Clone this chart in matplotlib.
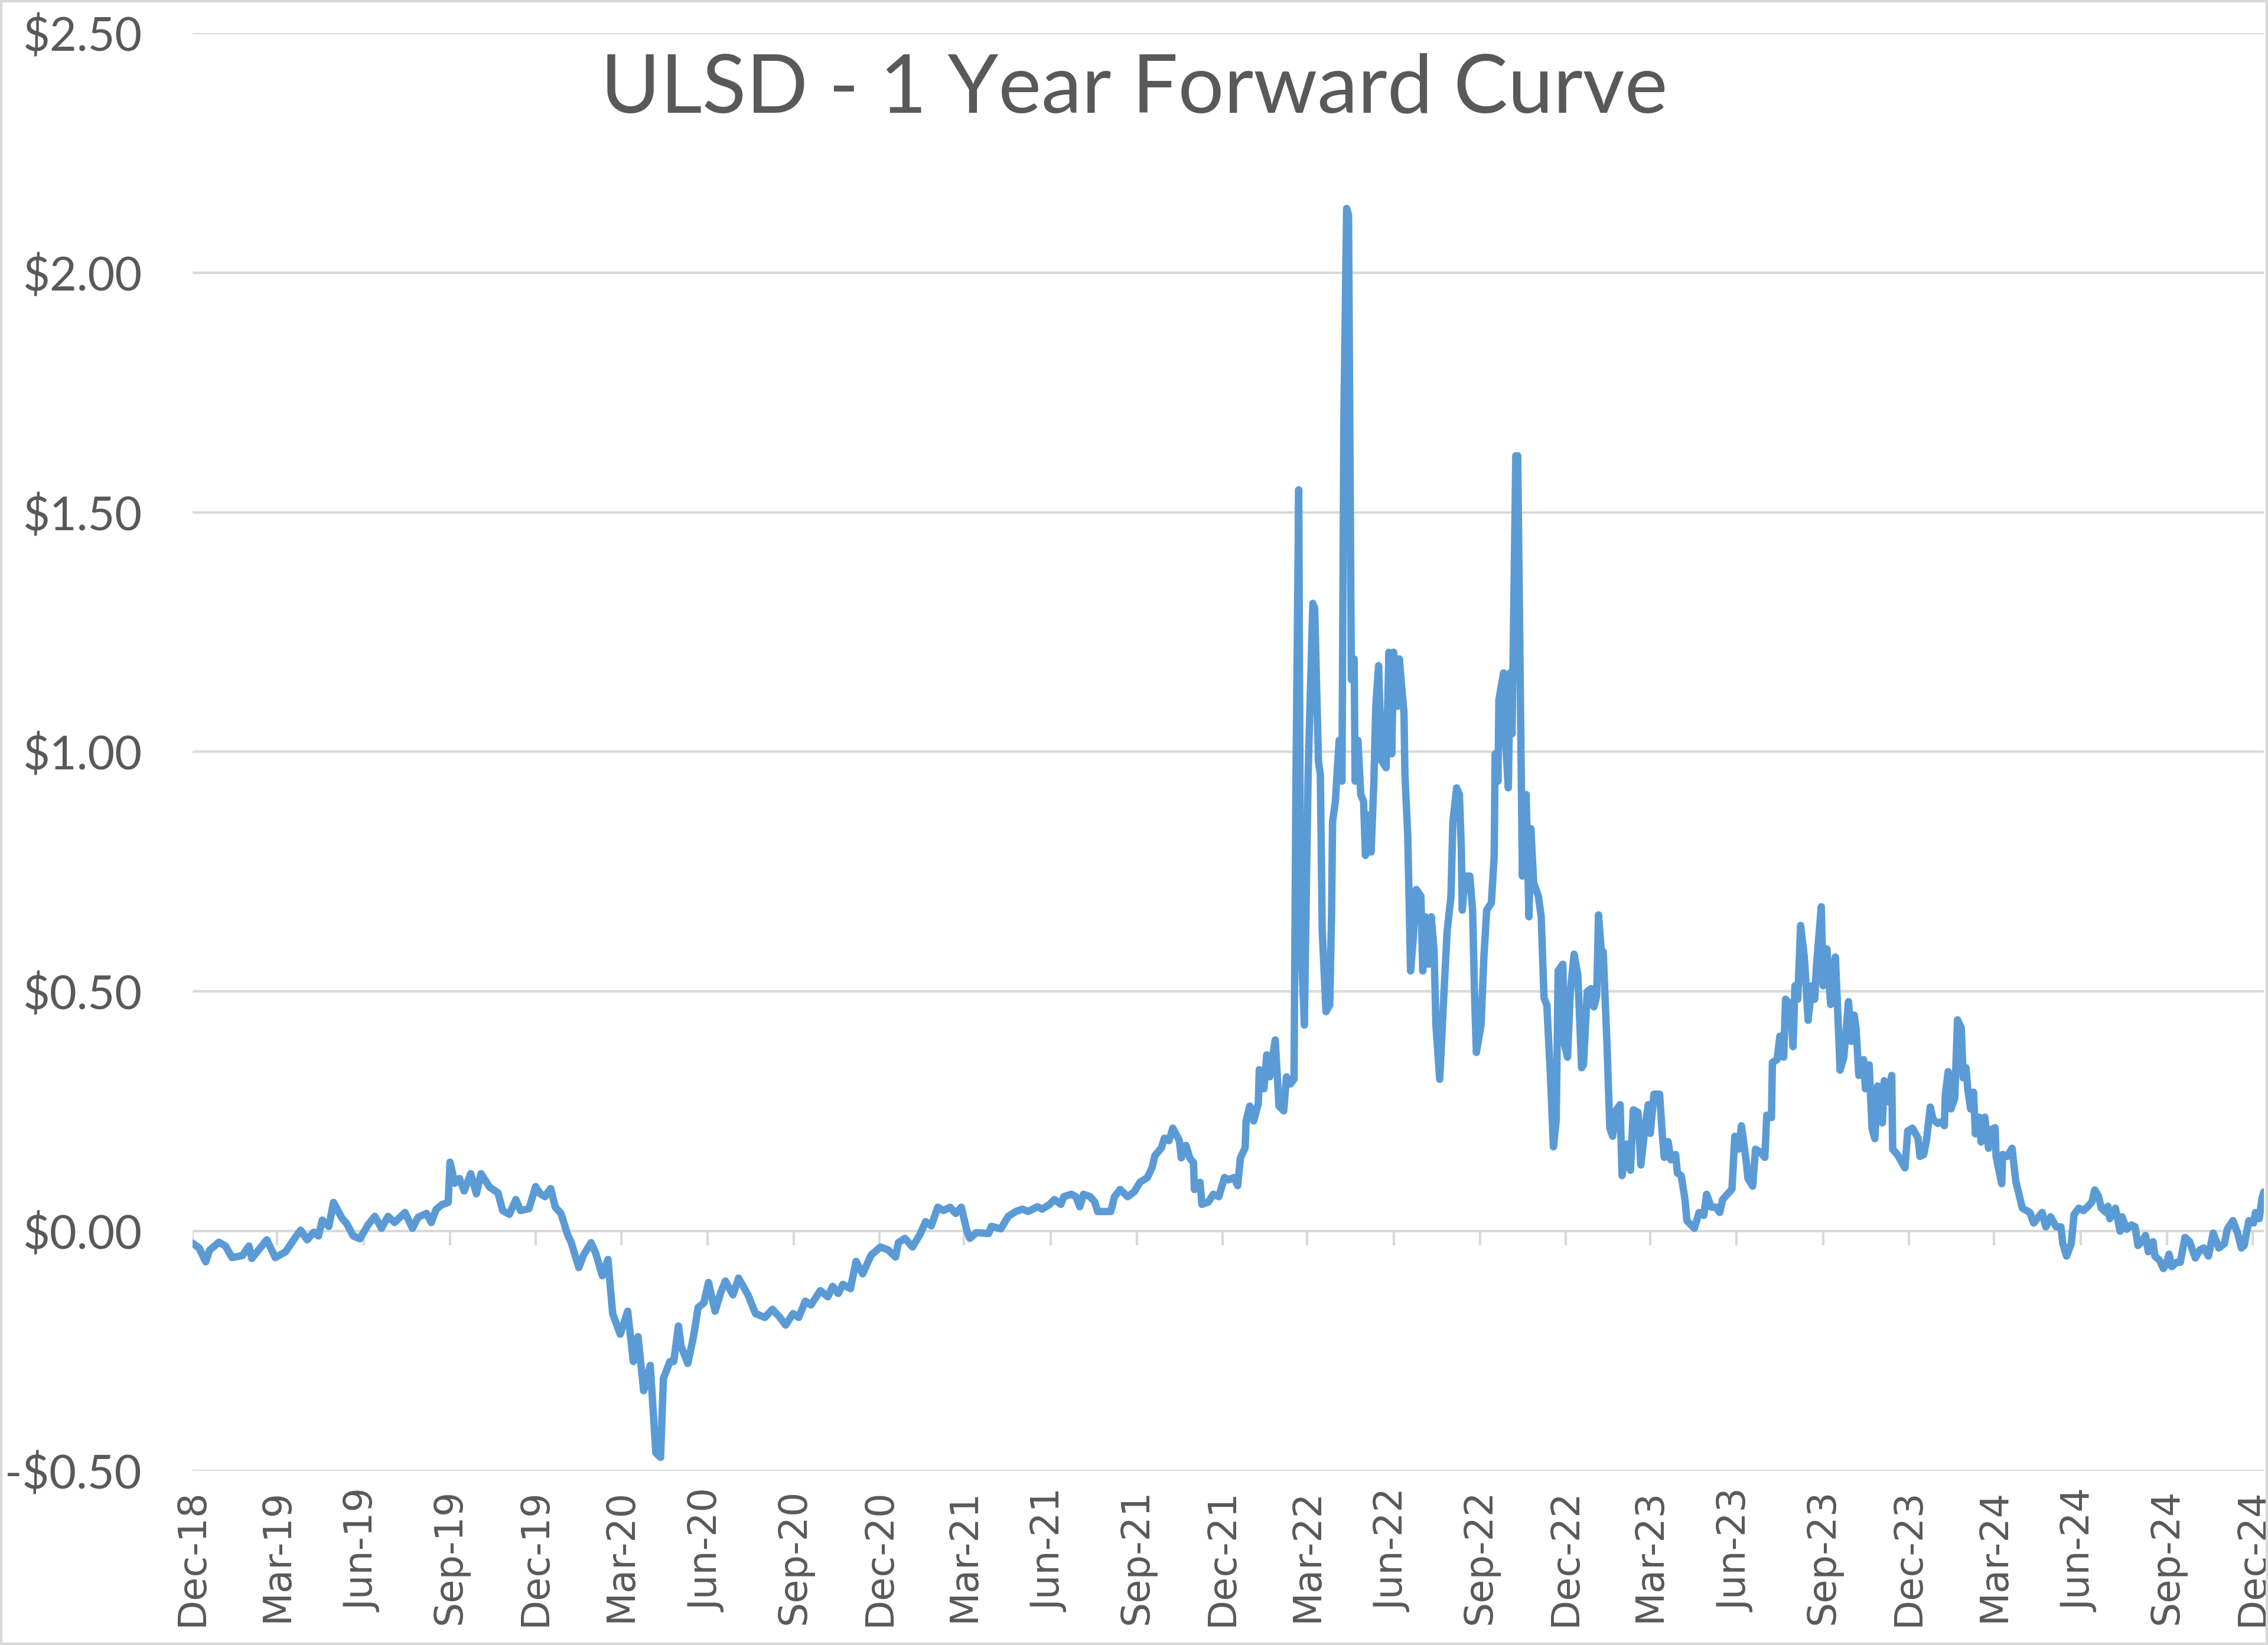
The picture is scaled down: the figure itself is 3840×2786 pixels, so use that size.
import matplotlib
matplotlib.use("Agg")
import matplotlib.pyplot as plt
import matplotlib.dates as mdates
from matplotlib.ticker import FuncFormatter
from matplotlib.patches import Rectangle
import pandas as pd

TITLE = "ULSD - 1 Year Forward Curve"

# spread values ($/gal)
dates = [
    "2018-12-01", "2018-12-08", "2018-12-15", "2018-12-19", "2018-12-29", "2019-01-05", "2019-01-12",
    "2019-01-23", "2019-01-30", "2019-02-02", "2019-02-11", "2019-02-18", "2019-02-27", "2019-03-10",
    "2019-03-20", "2019-03-26", "2019-04-02", "2019-04-09", "2019-04-14", "2019-04-18", "2019-04-25",
    "2019-04-30", "2019-05-09", "2019-05-14", "2019-05-21", "2019-05-28", "2019-06-06", "2019-06-13",
    "2019-06-20", "2019-06-27", "2019-07-04", "2019-07-15", "2019-07-23", "2019-07-29", "2019-08-07",
    "2019-08-12", "2019-08-17", "2019-08-23", "2019-08-30", "2019-09-01", "2019-09-06", "2019-09-11",
    "2019-09-16", "2019-09-23", "2019-09-29", "2019-10-04", "2019-10-13", "2019-10-22", "2019-10-27",
    "2019-11-03", "2019-11-10", "2019-11-15", "2019-11-24",
    "2019-12-01", "2019-12-06", "2019-12-11", "2019-12-17", "2019-12-22", "2019-12-28", "2020-01-04",
    "2020-01-08", "2020-01-16", "2020-01-21", "2020-01-29", "2020-02-03", "2020-02-10", "2020-02-16",
    "2020-02-21", "2020-02-29", "2020-03-08", "2020-03-14", "2020-03-19", "2020-03-25", "2020-04-01",
    "2020-04-07", "2020-04-12", "2020-04-15", "2020-04-22", "2020-04-26", "2020-05-01", "2020-05-04",
    "2020-05-11", "2020-05-17", "2020-05-22", "2020-05-28", "2020-06-02", "2020-06-09", "2020-06-15",
    "2020-06-20", "2020-06-28", "2020-07-04", "2020-07-14", "2020-07-22", "2020-08-01", "2020-08-09",
    "2020-08-17", "2020-08-23", "2020-08-31", "2020-09-06", "2020-09-13", "2020-09-19", "2020-09-29",
    "2020-10-07", "2020-10-12", "2020-10-18", "2020-10-23", "2020-10-31", "2020-11-06", "2020-11-13",
    "2020-11-22", "2020-12-02", "2020-12-10", "2020-12-18", "2020-12-21", "2020-12-28", "2021-01-05",
    "2021-01-13", "2021-01-19", "2021-01-25", "2021-02-01", "2021-02-07", "2021-02-14", "2021-02-20",
    "2021-02-26",
    "2021-03-04", "2021-03-07", "2021-03-14", "2021-03-27", "2021-03-30", "2021-04-09", "2021-04-17",
    "2021-04-25", "2021-05-02", "2021-05-08", "2021-05-18", "2021-05-23", "2021-05-31", "2021-06-05",
    "2021-06-12", "2021-06-15", "2021-06-23", "2021-06-28", "2021-07-02", "2021-07-06", "2021-07-13",
    "2021-07-18", "2021-07-21", "2021-08-04", "2021-08-08", "2021-08-14", "2021-08-22", "2021-08-29",
    "2021-09-04", "2021-09-12", "2021-09-17", "2021-09-20", "2021-09-27", "2021-09-30", "2021-10-05",
    "2021-10-09", "2021-10-16", "2021-10-18", "2021-10-23", "2021-10-27", "2021-10-31", "2021-11-01",
    "2021-11-07", "2021-11-09", "2021-11-16", "2021-11-21", "2021-11-27", "2021-12-03", "2021-12-07",
    "2021-12-13", "2021-12-17", "2021-12-20", "2021-12-25", "2021-12-26", "2021-12-30", "2022-01-03",
    "2022-01-08", "2022-01-09", "2022-01-14", "2022-01-17", "2022-01-20", "2022-01-26", "2022-01-30",
    "2022-02-04", "2022-02-07", "2022-02-11",
    "2022-02-15", "2022-02-17", "2022-02-20", "2022-02-22", "2022-02-26", "2022-02-28", "2022-03-02",
    "2022-03-07", "2022-03-09", "2022-03-13", "2022-03-15", "2022-03-17", "2022-03-21", "2022-03-25",
    "2022-03-27", "2022-03-28", "2022-03-31", "2022-04-04", "2022-04-07", "2022-04-09", "2022-04-12",
    "2022-04-14", "2022-04-17", "2022-04-20", "2022-04-21", "2022-04-24", "2022-04-27", "2022-04-30",
    "2022-05-02", "2022-05-05", "2022-05-08", "2022-05-11", "2022-05-13", "2022-05-16", "2022-05-19",
    "2022-05-24", "2022-05-27", "2022-05-30", "2022-06-01", "2022-06-05", "2022-06-07", "2022-06-12",
    "2022-06-13", "2022-06-16", "2022-06-19", "2022-06-22", "2022-06-25", "2022-06-30", "2022-07-02",
    "2022-07-05", "2022-07-08", "2022-07-11", "2022-07-14", "2022-07-16", "2022-07-20", "2022-07-25",
    "2022-07-28", "2022-08-01", "2022-08-03", "2022-08-07", "2022-08-10", "2022-08-12", "2022-08-13",
    "2022-08-16", "2022-08-21", "2022-08-24", "2022-08-26", "2022-08-28", "2022-09-02", "2022-09-05",
    "2022-09-08", "2022-09-13", "2022-09-16", "2022-09-17", "2022-09-20", "2022-09-21", "2022-09-26",
    "2022-09-28", "2022-10-01", "2022-10-03", "2022-10-05", "2022-10-09", "2022-10-11", "2022-10-15",
    "2022-10-16", "2022-10-20", "2022-10-23", "2022-10-25", "2022-10-28", "2022-11-02", "2022-11-05",
    "2022-11-08", "2022-11-11", "2022-11-15", "2022-11-18", "2022-11-21", "2022-11-23", "2022-11-28",
    "2022-11-30",
    "2022-12-03", "2022-12-06", "2022-12-10", "2022-12-14", "2022-12-18", "2022-12-20", "2022-12-24",
    "2022-12-28", "2022-12-31", "2023-01-03", "2023-01-05", "2023-01-08", "2023-01-10", "2023-01-14",
    "2023-01-17", "2023-01-20", "2023-01-24", "2023-01-28", "2023-01-30", "2023-02-04", "2023-02-08",
    "2023-02-11", "2023-02-16", "2023-02-19", "2023-02-24", "2023-02-27", "2023-03-01", "2023-03-05",
    "2023-03-11", "2023-03-14", "2023-03-16", "2023-03-20", "2023-03-23", "2023-03-28", "2023-03-30",
    "2023-04-03", "2023-04-07", "2023-04-09", "2023-04-17", "2023-04-22", "2023-04-27", "2023-04-30",
    "2023-05-05", "2023-05-10", "2023-05-14", "2023-05-17", "2023-05-22", "2023-05-27", "2023-05-30",
    "2023-06-03", "2023-06-06", "2023-06-11", "2023-06-13", "2023-06-18", "2023-06-21", "2023-06-26",
    "2023-07-01", "2023-07-03", "2023-07-08", "2023-07-09", "2023-07-14", "2023-07-17", "2023-07-21",
    "2023-07-23", "2023-07-28", "2023-07-31", "2023-08-02", "2023-08-05", "2023-08-08", "2023-08-12",
    "2023-08-16", "2023-08-20", "2023-08-23", "2023-08-25", "2023-08-30", "2023-09-01", "2023-09-05",
    "2023-09-09", "2023-09-14", "2023-09-16", "2023-09-19", "2023-09-23", "2023-09-28", "2023-10-01",
    "2023-10-04", "2023-10-06", "2023-10-09", "2023-10-14", "2023-10-16", "2023-10-20", "2023-10-23",
    "2023-10-26", "2023-10-29", "2023-11-03", "2023-11-05", "2023-11-09", "2023-11-13", "2023-11-14",
    "2023-11-19", "2023-11-27", "2023-11-30", "2023-12-05",
    "2023-12-11", "2023-12-13", "2023-12-17", "2023-12-20", "2023-12-24", "2023-12-27", "2024-01-01",
    "2024-01-06", "2024-01-08", "2024-01-09", "2024-01-12", "2024-01-15", "2024-01-19", "2024-01-22",
    "2024-01-26", "2024-01-28", "2024-01-31", "2024-02-02", "2024-02-05", "2024-02-08", "2024-02-10",
    "2024-02-14", "2024-02-16", "2024-02-20", "2024-02-24", "2024-02-27", "2024-03-02", "2024-03-03",
    "2024-03-09", "2024-03-10", "2024-03-15", "2024-03-20", "2024-03-24", "2024-03-31", "2024-04-08",
    "2024-04-12", "2024-04-21", "2024-04-25", "2024-04-30", "2024-05-06", "2024-05-11", "2024-05-13",
    "2024-05-17", "2024-05-22", "2024-05-25", "2024-05-30", "2024-06-04", "2024-06-09", "2024-06-13",
    "2024-06-16", "2024-06-20", "2024-06-23", "2024-06-28", "2024-06-30", "2024-07-02", "2024-07-08",
    "2024-07-13", "2024-07-15", "2024-07-20", "2024-07-25", "2024-07-29", "2024-08-01", "2024-08-05",
    "2024-08-09", "2024-08-12", "2024-08-17", "2024-08-19", "2024-08-24", "2024-08-28", "2024-08-31",
    "2024-09-03", "2024-09-06", "2024-09-11", "2024-09-15", "2024-09-20", "2024-09-25", "2024-10-01",
    "2024-10-06", "2024-10-10", "2024-10-15", "2024-10-20", "2024-10-26", "2024-11-01", "2024-11-04",
    "2024-11-10", "2024-11-15", "2024-11-19", "2024-11-22", "2024-11-27", "2024-12-02", "2024-12-04",
    "2024-12-08", "2024-12-11", "2024-12-13",
]

values = [
    -0.025, -0.035, -0.064, -0.040, -0.023, -0.031, -0.055,
    -0.051, -0.031, -0.057, -0.035, -0.018, -0.055, -0.043,
    -0.014, 0.002, -0.018, -0.002, -0.010, 0.023, 0.010,
    0.060, 0.027, 0.016, -0.010, -0.016, 0.014, 0.031,
    0.006, 0.031, 0.018, 0.039, 0.006, 0.029, 0.037,
    0.018, 0.045, 0.055, 0.060, 0.144, 0.100, 0.110,
    0.084, 0.120, 0.078, 0.120, 0.092, 0.080, 0.043,
    0.035, 0.066, 0.043, 0.047,
    0.093, 0.078, 0.072, 0.089, 0.050, 0.037, -0.007,
    -0.024, -0.076, -0.050, -0.024, -0.046, -0.093, -0.059,
    -0.172, -0.215, -0.167, -0.272, -0.220, -0.333, -0.280,
    -0.463, -0.472, -0.307, -0.272, -0.272, -0.198, -0.241,
    -0.276, -0.220, -0.159, -0.150, -0.107, -0.167, -0.128,
    -0.104, -0.133, -0.098, -0.133, -0.172, -0.180, -0.163,
    -0.180, -0.196, -0.172, -0.180, -0.146, -0.154, -0.124,
    -0.137, -0.115, -0.130, -0.111, -0.120, -0.063, -0.089,
    -0.050, -0.033, -0.039, -0.054, -0.024, -0.015, -0.033,
    -0.007, 0.020, 0.011, 0.050, 0.043, 0.050, 0.037,
    0.050,
    0.000, -0.015, -0.003, -0.005, 0.010, 0.005, 0.031,
    0.041, 0.046, 0.041, 0.051, 0.046, 0.056, 0.066,
    0.056, 0.072, 0.077, 0.072, 0.051, 0.077, 0.072,
    0.061, 0.041, 0.041, 0.072, 0.087, 0.072, 0.082,
    0.102, 0.112, 0.133, 0.158, 0.174, 0.194, 0.189,
    0.215, 0.189, 0.153, 0.179, 0.153, 0.143, 0.087,
    0.102, 0.056, 0.061, 0.077, 0.072, 0.112, 0.107,
    0.112, 0.095, 0.153, 0.174, 0.230, 0.261, 0.230,
    0.266, 0.337, 0.297, 0.368, 0.322, 0.399, 0.261,
    0.251, 0.322, 0.307,
    0.317, 0.925, 1.547, 0.628, 0.430, 0.699, 0.953,
    1.310, 1.300, 0.980, 0.953, 0.628, 0.458, 0.472,
    0.670, 0.854, 0.897, 1.024, 0.939, 1.689, 2.134,
    2.120, 1.151, 1.194, 0.939, 1.024, 0.911, 0.897,
    0.784, 0.868, 0.791, 0.939, 1.095, 1.180, 0.982,
    0.967, 1.208, 0.996, 1.208, 1.095, 1.194, 1.081,
    0.953, 0.826, 0.543, 0.614, 0.713, 0.699, 0.543,
    0.656, 0.557, 0.656, 0.586, 0.430, 0.317, 0.515,
    0.628, 0.699, 0.854, 0.925, 0.911, 0.798, 0.670,
    0.741, 0.741, 0.670, 0.500, 0.373, 0.430, 0.571,
    0.670, 0.685, 0.784, 0.996, 0.939, 1.109, 1.165,
    1.024, 0.925, 1.165, 1.038, 1.618, 1.618, 0.925,
    0.741, 0.911, 0.656, 0.840, 0.727, 0.699, 0.656,
    0.487, 0.472, 0.317, 0.176, 0.232, 0.543, 0.557,
    0.388,
    0.363, 0.500, 0.578, 0.534, 0.341, 0.347, 0.500,
    0.506, 0.468, 0.490, 0.660, 0.583, 0.583, 0.390,
    0.215, 0.198, 0.253, 0.264, 0.116, 0.182, 0.127,
    0.253, 0.248, 0.138, 0.226, 0.264, 0.204, 0.286,
    0.286, 0.198, 0.154, 0.187, 0.149, 0.160, 0.121,
    0.116, 0.066, 0.022, 0.006, 0.039, 0.033, 0.077,
    0.050, 0.050, 0.039, 0.066, 0.077, 0.088, 0.198,
    0.171, 0.220, 0.149, 0.110, 0.094, 0.171, 0.165,
    0.154, 0.242, 0.237, 0.352, 0.358, 0.407, 0.363,
    0.484, 0.473, 0.385, 0.512, 0.484, 0.638, 0.572,
    0.440, 0.512, 0.484, 0.556, 0.677, 0.512, 0.589,
    0.473, 0.572, 0.484, 0.336, 0.363, 0.479, 0.396,
    0.451, 0.424, 0.325, 0.358, 0.297, 0.347, 0.215,
    0.193, 0.303, 0.226, 0.314, 0.270, 0.325, 0.171,
    0.160, 0.132, 0.209, 0.215,
    0.194, 0.156, 0.160, 0.190, 0.259, 0.233, 0.225,
    0.229, 0.220, 0.285, 0.333, 0.255, 0.277, 0.441,
    0.424, 0.320, 0.341, 0.294, 0.255, 0.290, 0.203,
    0.238, 0.186, 0.238, 0.173, 0.212, 0.216, 0.156,
    0.099, 0.160, 0.156, 0.173, 0.104, 0.048, 0.039,
    0.017, 0.039, 0.009, 0.030, 0.009, 0.009, -0.026,
    -0.052, -0.026, 0.035, 0.048, 0.043, 0.052, 0.061,
    0.086, 0.073, 0.048, 0.039, 0.052, 0.026, 0.048,
    0.000, 0.030, 0.004, 0.013, 0.009, -0.030, -0.022,
    -0.009, -0.043, -0.022, -0.052, -0.061, -0.078, -0.069,
    -0.048, -0.074, -0.065, -0.065, -0.013, -0.022, -0.056,
    -0.039, -0.035, -0.052, -0.004, -0.035, -0.026, 0.004,
    0.022, -0.004, -0.035, -0.030, 0.022, 0.017, 0.039,
    0.026, 0.069, 0.082,
]

tick_dates = pd.date_range("2018-12-01", "2024-12-01", freq="3MS")
y_ticks = [-0.5, 0.0, 0.5, 1.0, 1.5, 2.0, 2.5]

LINE = "#5B9BD5"
GRID = "#D9D9D9"
TEXT = "#595959"

x = pd.to_datetime(dates)

fig = plt.figure(figsize=(38.4, 27.86), dpi=100)
ax = fig.add_axes([0.0849, 0.1059, 0.9133, 0.8740])

ax.plot(x, values, color=LINE, lw=9, solid_joinstyle="round", solid_capstyle="round", zorder=3)

ax.set_xlim(x[0], x[-1])
ax.set_ylim(-0.5, 2.5)
ax.set_yticks(y_ticks)
ax.yaxis.set_major_formatter(FuncFormatter(lambda v, p: ("-$%.2f" % -v) if v < 0 else ("$%.2f" % v)))
ax.grid(axis="y", color=GRID, lw=3)
ax.set_axisbelow(True)
for s in ax.spines.values():
    s.set_visible(False)

# category-style tick marks hanging off the zero line
ax.vlines(tick_dates, -0.03, 0, color=GRID, lw=3, zorder=1)

ax.set_xticks(tick_dates)
ax.xaxis.set_major_formatter(mdates.DateFormatter("%b-%y"))
ax.tick_params(axis="x", length=0, pad=22, labelsize=47, labelcolor=TEXT, rotation=90)
ax.tick_params(axis="y", length=0, pad=62, labelsize=57, labelcolor=TEXT)
for lab in ax.get_yticklabels():
    lab.set_family("Lato")

fig.text(0.5, 1 - 152 / 2786, TITLE, ha="center", va="center", fontsize=99, color=TEXT, family="Lato")

fig.patches.append(Rectangle((0, 0), 1, 1, transform=fig.transFigure, fill=False, edgecolor=GRID, lw=6))

fig.savefig("out.png", dpi=100)
